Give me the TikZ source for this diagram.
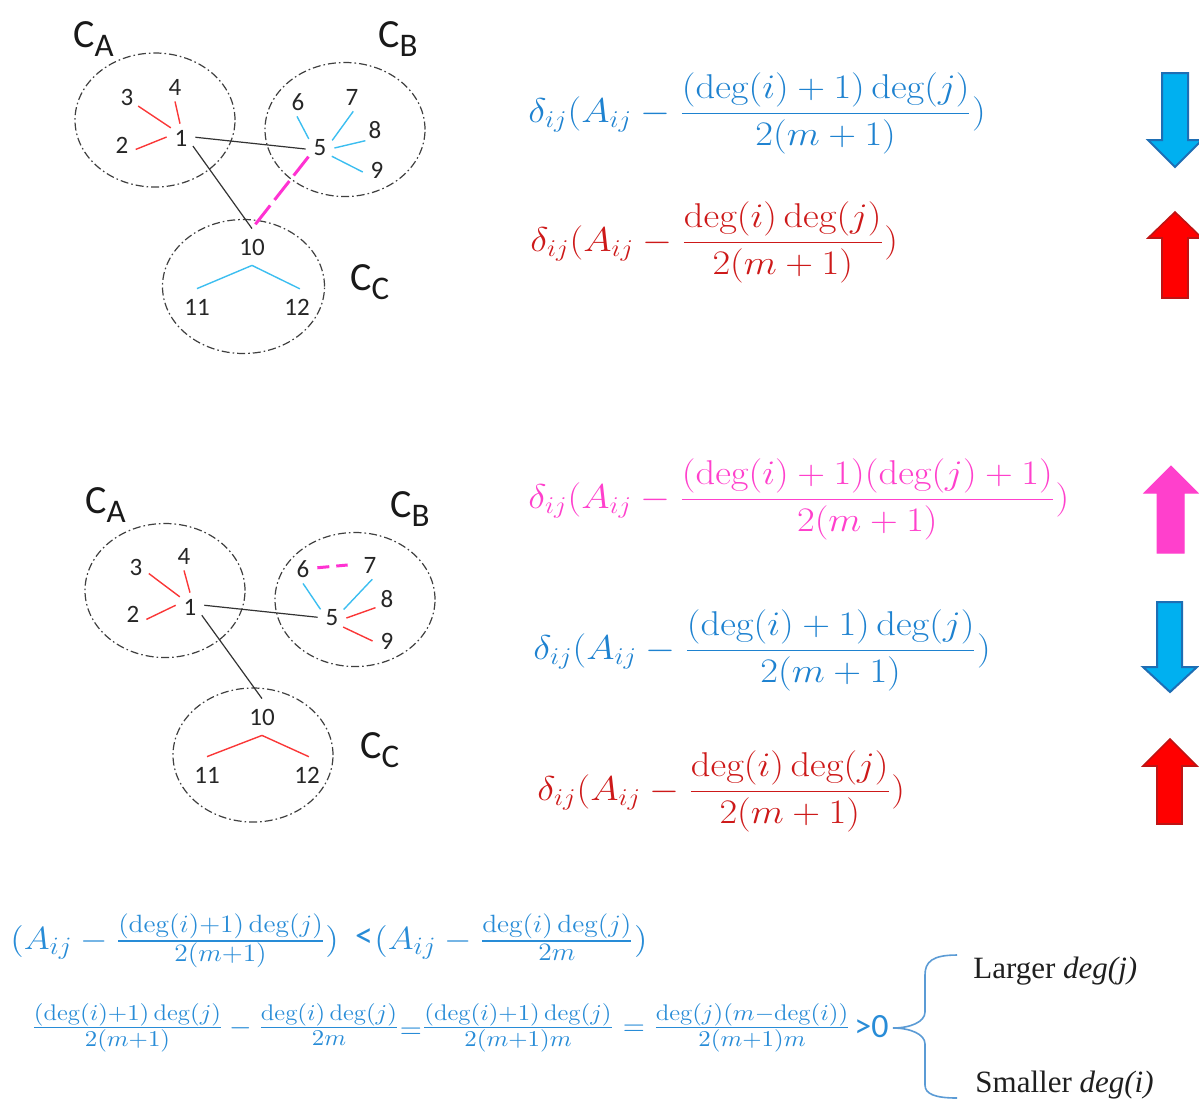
\RequirePackage{fix-cm}
\documentclass[tikz,border=0pt]{standalone}
\usepackage{fontspec}
\usepackage{amsmath}
\usepackage{graphicx}
\newfontfamily\calibri{Carlito}
\newfontfamily\timesf{Liberation Serif}
\DeclareMathSizes{16}{16}{12.5}{9}
\DeclareMathSizes{14.5}{14.5}{11.3}{8}
\newcommand{\hscl}[2]{\scalebox{#1}[1]{#2}}
\newcommand{\clsub}[1]{\raisebox{-4.5pt}{\fontsize{16.5}{19}\selectfont #1}}
\definecolor{fblue}{RGB}{30,130,208}
\definecolor{fred}{RGB}{205,25,25}
\definecolor{fpink}{RGB}{255,64,204}
\definecolor{lblue}{RGB}{40,140,215}
\definecolor{myred}{RGB}{250,55,55}
\definecolor{mycyan}{RGB}{60,190,240}
\definecolor{mymag}{RGB}{255,50,210}
\definecolor{cfill}{RGB}{0,176,240}
\definecolor{cline}{RGB}{30,110,180}
\definecolor{rline}{RGB}{190,20,20}
\definecolor{bracec}{RGB}{91,155,213}
\tikzset{
  vl/.style={circle, inner sep=0pt, minimum size=14pt, text=black!85,
    font=\calibri\fontsize{12.5}{14}\selectfont},
  vlb/.style={vl, minimum size=18pt},
  clu/.style={draw=black!75, line width=0.6pt,
    dash pattern=on 4pt off 1.5pt on 0.8pt off 1.5pt},
  redge/.style={draw=myred, line width=0.7pt},
  cedge/.style={draw=mycyan, line width=0.7pt},
  kedge/.style={draw=black!80, line width=0.6pt},
  medge/.style={draw=mymag, line width=1.5pt},
  clab/.style={anchor=base west, inner sep=0pt, text=black!90,
    font=\calibri\fontsize{20}{23}\selectfont},
  bigf/.style={anchor=base west, inner sep=0pt, font=\fontsize{17.2}{20}\selectfont},
  lone/.style={anchor=base west, inner sep=0pt, text=lblue, font=\fontsize{16}{19}\selectfont},
  ltwo/.style={anchor=base, inner sep=0pt, text=lblue, font=\fontsize{14.5}{17}\selectfont},
  carrow/.style={fill=cfill, draw=cline, line width=1pt, line join=miter},
  rarrow/.style={fill=red, draw=rline, line width=0.8pt, line join=miter},
  parrow/.style={fill=fpink, draw=fpink, line width=0.5pt, line join=miter},
  sidetxt/.style={anchor=base west, inner sep=0pt, text=black!88,
    font=\timesf\fontsize{15.5}{18}\selectfont}
}
\begin{document}
\begin{tikzpicture}[x=0.5pt, y=-0.5pt]
\useasboundingbox (0,0) rectangle (1199,1100);

% ---------- top graph ----------
\draw[clu] (155,120) ellipse [x radius=40pt, y radius=33.5pt];
\draw[clu] (345,129.5) ellipse [x radius=40pt, y radius=33.5pt];
\draw[clu] (243.5,286.5) ellipse [x radius=40.5pt, y radius=33.5pt];

\node[vl] (a1) at (181,138) {1};
\node[vl] (a2) at (122,145) {2};
\node[vl] (a3) at (127,97) {3};
\node[vl] (a4) at (175,87) {4};
\node[vl] (a5) at (320,148) {5};
\node[vl] (a6) at (298,102) {6};
\node[vl] (a7) at (352,97) {7};
\node[vl] (a8) at (375,130) {8};
\node[vl] (a9) at (377,170) {9};
\node[vlb] (a10) at (252,247) {10};
\node[vlb] (a11) at (197,307) {11};
\node[vlb] (a12) at (297,307) {12};

\draw[redge] (a3.-39) -- (a1.135);
\draw[redge] (a4.-90) -- (a1.94);
\draw[redge] (a2.-18) -- (a1.176);
\draw[kedge] (a1.3) -- (a5.184);
\draw[kedge] (a1.-34) -- (a10.north);
\draw[medge, dash pattern=on 12pt off 3.5pt] (a5.-143) -- (a10.north);
\draw[cedge] (a6.-94) -- (a5.141);
\draw[cedge] (a7.-85) -- (a5.32);
\draw[cedge] (a8.-132) -- (a5.0);
\draw[cedge] (a9.-172) -- (a5.-35);
\draw[cedge] (a10.south) -- (a11.north);
\draw[cedge] (a10.south) -- (a12.81);

\node[clab] (ca) at (73,47) {C\clsub{A}};
\node[clab] (cb) at (378,47) {C\clsub{B}};
\node[clab] (cc) at (350,290) {C\clsub{C}};

% ---------- bottom graph ----------
\draw[clu] (165,590.5) ellipse [x radius=40pt, y radius=33.5pt];
\draw[clu] (355,599.5) ellipse [x radius=40pt, y radius=33.5pt];
\draw[clu] (253,755) ellipse [x radius=40pt, y radius=33.5pt];

\node[vl] (b1) at (190,607) {1};
\node[vl] (b2) at (133,614) {2};
\node[vl] (b3) at (136,567) {3};
\node[vl] (b4) at (184,556) {4};
\node[vl] (b5) at (332,618) {5};
\node[vl] (b6) at (303,569) {6};
\node[vl] (b7) at (370,565) {7};
\node[vl] (b8) at (387,599) {8};
\node[vl] (b9) at (387,641) {9};
\node[vlb] (b10) at (262,717) {10};
\node[vlb] (b11) at (207,775) {11};
\node[vlb] (b12) at (307,775) {12};

\draw[redge] (b3.-27) -- (b1.135);
\draw[redge] (b4.-90) -- (b1.90);
\draw[redge] (b2.-22) -- (b1.173);
\draw[kedge] (b1.7) -- (b5.177);
\draw[kedge] (b1.-35) -- (b10.north);
\draw[cedge] (b6.-90) -- (b5.143);
\draw[cedge] (b7.-81) -- (b5.36);
\draw[redge] (b8.-143) -- (b5.0);
\draw[redge] (b9.180) -- (b5.-39);
\draw[medge, dash pattern=on 6pt off 3.5pt, shorten >=4pt] (b6.5) -- (b7.177);
\draw[redge] (b10.south) -- (b11.north);
\draw[redge] (b10.south) -- (b12.84);

\node[clab] (da) at (85,513) {C\clsub{A}};
\node[clab] (db) at (390,517) {C\clsub{B}};
\node[clab] (dc) at (360,758) {C\clsub{C}};

% ---------- right formulas ----------
\node[bigf, text=fblue] (fa1) at (528,122)
  {\hscl{1.12}{$\delta_{ij}(A_{ij}-\dfrac{(\deg(i)+1)\deg(j)}{2(m+1)})$}};
\node[bigf, text=fred] (fa2) at (530,251)
  {\hscl{1.12}{$\delta_{ij}(A_{ij}-\dfrac{\deg(i)\deg(j)}{2(m+1)})$}};
\node[bigf, text=fpink] (fb1) at (528,508)
  {\hscl{1.12}{$\delta_{ij}(A_{ij}-\dfrac{(\deg(i)+1)(\deg(j)+1)}{2(m+1)})$}};
\node[bigf, text=fblue] (fb2) at (533,659)
  {\hscl{1.12}{$\delta_{ij}(A_{ij}-\dfrac{(\deg(i)+1)\deg(j)}{2(m+1)})$}};
\node[bigf, text=fred] (fb3) at (537,800)
  {\hscl{1.12}{$\delta_{ij}(A_{ij}-\dfrac{\deg(i)\deg(j)}{2(m+1)})$}};

% ---------- block arrows ----------
\draw[carrow] (1162,73) -- (1188,73) -- (1188,140) -- (1202,140) -- (1175,167)
  -- (1148,140) -- (1162,140) -- cycle;
\draw[rarrow] (1175,212) -- (1202,238) -- (1188,238) -- (1188,298) -- (1162,298)
  -- (1162,238) -- (1148,238) -- cycle;
\draw[parrow] (1171,466) -- (1198,493) -- (1184,493) -- (1184,553) -- (1157,553)
  -- (1157,493) -- (1144,493) -- cycle;
\draw[carrow] (1157,602) -- (1182,602) -- (1182,667) -- (1197,667) -- (1170,692)
  -- (1143,667) -- (1157,667) -- cycle;
\draw[rarrow] (1170,739) -- (1197,766) -- (1182,766) -- (1182,824) -- (1157,824)
  -- (1157,766) -- (1143,766) -- cycle;

% ---------- bottom derivation ----------
\node[lone] (la) at (10,949)
  {\hscl{1.1}{$(A_{ij}-\frac{(\deg(i)+1)\deg(j)}{2(m+1)})$}};
\node[anchor=base, inner sep=0pt, text=lblue, font=\calibri\fontsize{18}{20}\selectfont] (lb) at (364,947) {<};
\node[lone] (lc) at (374,949)
  {\hscl{1.1}{$(A_{ij}-\frac{\deg(i)\deg(j)}{2m})$}};

\node[ltwo] (m1) at (127.5,1035) {\hscl{1.1}{$\frac{(\deg(i)+1)\deg(j)}{2(m+1)}$}};
\node[ltwo] (m2) at (241,1035) {$-$};
\node[ltwo] (m3) at (329,1035) {\hscl{1.1}{$\frac{\deg(i)\deg(j)}{2m}$}};
\node[ltwo] (m4) at (411,1038.5) {$=$};
\node[ltwo] (m5) at (518,1035) {\hscl{1.1}{$\frac{(\deg(i)+1)\deg(j)}{2(m+1)m}$}};
\node[ltwo] (m6) at (634,1035) {$=$};
\node[ltwo] (m7) at (752,1035) {\hscl{1.1}{$\frac{\deg(j)(m-\deg(i))}{2(m+1)m}$}};
\node[anchor=base west, inner sep=0pt, text=lblue, font=\calibri\fontsize{17}{20}\selectfont] (m8) at (854,1037) {>0};

% brace
\draw[draw=bracec, line width=0.8pt] (957,955) .. controls (932,955) and (925,962) .. (925,975)
  -- (925,1012) .. controls (925,1022) and (910,1028) .. (893,1028)
  .. controls (910,1028) and (925,1034) .. (925,1044)
  -- (925,1085) .. controls (925,1094) and (935,1098) .. (957,1098);

\node[sidetxt] (lg) at (973,978) {Larger \textit{deg(j)}};
\node[sidetxt] (sm) at (975,1092) {Smaller \textit{deg(i)}};
\end{tikzpicture}
\end{document}
